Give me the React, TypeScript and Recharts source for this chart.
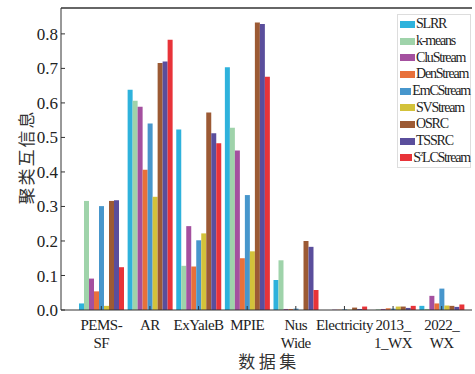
import { BarChart, Bar, XAxis, YAxis, ReferenceLine } from 'recharts';

const DATASETS = ['PEMS-\nSF', 'AR', 'ExYaleB', 'MPIE', 'Nus\nWide', 'Electricity', '2013_\n1_WX', '2022_\nWX'];

const SLRR = [0.019, 0.638, 0.523, 0.703, 0.087, 0.0, 0.0, 0.012];
const KMEANS = [0.316, 0.606, 0.128, 0.528, 0.144, 0.0, 0.002, 0.003];
const CLUSTREAM = [0.091, 0.589, 0.243, 0.462, 0.003, 0.001, 0.003, 0.041];
const DENSTREAM = [0.054, 0.406, 0.126, 0.15, 0.003, 0.001, 0.005, 0.019];
const EMCSTREAM = [0.301, 0.54, 0.202, 0.333, 0.004, 0.002, 0.004, 0.062];
const SVSTREAM = [0.012, 0.328, 0.222, 0.17, 0.0, 0.001, 0.01, 0.013];
const OSRC = [0.316, 0.716, 0.572, 0.833, 0.2, 0.007, 0.01, 0.012];
const TSSRC = [0.318, 0.72, 0.512, 0.829, 0.183, 0.003, 0.006, 0.009];
const S2LC = [0.124, 0.783, 0.483, 0.676, 0.058, 0.01, 0.012, 0.016];

const Y_TICKS = [0, 0.1, 0.2, 0.3, 0.4, 0.5, 0.6, 0.7, 0.8];

const SERIES = [
  { key: 'SLRR', values: SLRR, color: '#2eb2dc' },
  { key: 'k-means', values: KMEANS, color: '#9fd3aa' },
  { key: 'CluStream', values: CLUSTREAM, color: '#a4509f' },
  { key: 'DenStream', values: DENSTREAM, color: '#e8703a' },
  { key: 'EmCStream', values: EMCSTREAM, color: '#4796cc' },
  { key: 'SVStream', values: SVSTREAM, color: '#d3c23a' },
  { key: 'OSRC', values: OSRC, color: '#9c5a34' },
  { key: 'TSSRC', values: TSSRC, color: '#5a4e9c' },
  { key: 'S2LCStream', values: S2LC, color: '#e83339' },
];

const data = DATASETS.map((name, i) => {
  const row: Record<string, string | number> = { name };
  SERIES.forEach((s) => {
    row[s.key] = s.values[i];
  });
  return row;
});

const serif = '"Liberation Serif", "Times New Roman", serif';
const cjk = '"Noto Sans CJK SC", sans-serif';

const XTick = (props: any) => {
  const { x, y, payload } = props;
  const lines = String(payload.value).split('\n');
  return (
    <text x={x} y={y} textAnchor="middle" fontFamily={serif} fontSize={15} letterSpacing={-0.5} fill="#222">
      {lines.map((line, i) => (
        <tspan key={i} x={x} y={y + 20 + i * 18}>
          {line}
        </tspan>
      ))}
    </text>
  );
};

// legend drawn as an overlay so it doesn't take space from the plot
const ChartLegend = () => (
  <div
    style={{
      position: 'absolute',
      left: 397,
      top: 14,
      width: 74,
      boxSizing: 'border-box',
      border: '1px solid #ddd',
      background: '#fff',
      padding: '1px 0 1px 2px',
      fontFamily: serif,
      fontSize: 14,
      letterSpacing: -1.2,
      color: '#222',
    }}
  >
    {SERIES.map((s) => (
      <div key={s.key} style={{ display: 'flex', alignItems: 'center', height: 16.7, whiteSpace: 'nowrap' }}>
        <span style={{ display: 'inline-block', width: 15, height: 7, background: s.color, marginRight: 1 }} />
        {s.key === 'S2LCStream' ? (
          <span>
            S<sup style={{ fontSize: 7, verticalAlign: 'top', lineHeight: '8px' }}>2</sup>LCStream
          </span>
        ) : (
          <span>{s.key}</span>
        )}
      </div>
    ))}
  </div>
);

export default function App() {
  return (
    <div style={{ position: 'absolute', left: 0, top: 0, width: 475, height: 374, background: '#fff' }}>
      <BarChart
        width={475}
        height={374}
        data={data}
        margin={{ top: 8, right: 3, bottom: 0, left: 0 }}
        barCategoryGap={2}
        barGap={0}
      >
        <XAxis
          dataKey="name"
          height={64}
          padding={{ left: 16, right: 6 }}
          tick={<XTick />}
          tickSize={-4}
          tickMargin={4}
          interval={0}
          stroke="#333"
          label={{
            content: () => (
              <text x={269} y={368} textAnchor="middle" fontFamily={cjk} fontSize={17} letterSpacing={3.5} fill="#333">
                数据集
              </text>
            ),
          }}
        />
        <YAxis
          width={61}
          domain={[0, 0.875]}
          ticks={Y_TICKS}
          tickFormatter={(v: number) => v.toFixed(1)}
          tickSize={-4}
          tickMargin={7}
          stroke="#333"
          tick={{ fontFamily: serif, fontSize: 17, fill: '#222' }}
          allowDataOverflow
          label={{
            content: () => (
              <text
                x={25}
                y={157}
                transform="rotate(-90 25 157)"
                textAnchor="middle"
                dominantBaseline="central"
                fontFamily={cjk}
                fontSize={17}
                letterSpacing={2}
                fill="#333"
              >
                聚类互信息
              </text>
            ),
          }}
        />
        <ReferenceLine y={0.875} stroke="#333" strokeWidth={1.5} ifOverflow="extendDomain" />
        {SERIES.map((s) => (
          <Bar key={s.key} dataKey={s.key} fill={s.color} isAnimationActive={false} />
        ))}
      </BarChart>
      <ChartLegend />
    </div>
  );
}
